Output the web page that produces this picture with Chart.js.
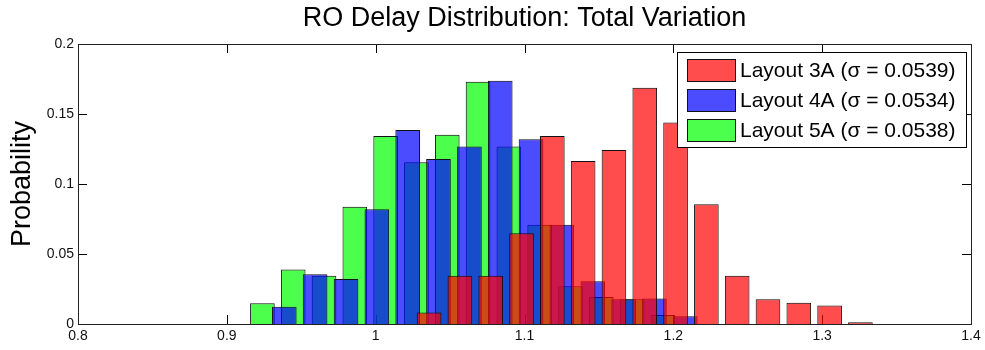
<!DOCTYPE html>
<html lang="en">
<head>
    <meta charset="UTF-8">
    <title>RO Delay Distribution: Total Variation</title>
    <script src="https://cdn.jsdelivr.net/npm/chart.js"></script>
    <style>
        html, body { margin: 0; padding: 0; background: #fff; }
        #wrap { width: 985px; height: 350px; }
    </style>
</head>
<body>
    <div id="wrap"><canvas id="roChart"></canvas></div>

    <script>
        // histogram data (bin centres + probability per bin)
        const seriesNames = ['Layout 3A (σ = 0.0539)', 'Layout 4A (σ = 0.0534)', 'Layout 5A (σ = 0.0538)'];

        const centers3A = [1.0359, 1.0566, 1.0773, 1.0980, 1.1187, 1.1394, 1.1601, 1.1808, 1.2015, 1.2222, 1.2429, 1.2636, 1.2843, 1.3050, 1.3257];
        const prob3A    = [0.0083, 0.0345, 0.0345, 0.0648, 0.1343, 0.1164, 0.1243, 0.1688, 0.1440, 0.0855, 0.0345, 0.0176, 0.0152, 0.0133, 0.0012];

        const centers4A = [0.9386, 0.9593, 0.9801, 1.0008, 1.0215, 1.0422, 1.0630, 1.0837, 1.1044, 1.1251, 1.1459, 1.1666, 1.1873, 1.2080];
        const prob4A    = [0.0124, 0.0355, 0.0321, 0.0819, 0.1386, 0.1179, 0.1267, 0.1738, 0.1319, 0.0709, 0.0305, 0.0176, 0.0183, 0.0055];

        const centers5A = [0.9239, 0.9446, 0.9653, 0.9860, 1.0067, 1.0274, 1.0481, 1.0688, 1.0895, 1.1102, 1.1309, 1.1516, 1.1723, 1.1930];
        const prob5A    = [0.0148, 0.0390, 0.0345, 0.0838, 0.1343, 0.1155, 0.1352, 0.1731, 0.1267, 0.0709, 0.0270, 0.0193, 0.0176, 0.0064];

        const xTicks = [0.8, 0.9, 1, 1.1, 1.2, 1.3, 1.4];
        const xTickLabels = ['0.8', '0.9', '1', '1.1', '1.2', '1.3', '1.4'];
        const yTicks = [0, 0.05, 0.1, 0.15, 0.2];
        const yTickLabels = ['0', '0.05', '0.1', '0.15', '0.2'];

        const FONT = "'Liberation Sans', Arial, Helvetica, sans-serif";
        Chart.defaults.font.family = FONT;
        Chart.defaults.color = '#000';

        function points(xs, ys) {
            return xs.map((x, i) => ({ x: x, y: ys[i] }));
        }

        // matlab style box with inward ticks
        const frameTicks = {
            id: 'frameTicks',
            beforeDatasetsDraw(chart) {
                const { ctx, chartArea: a, scales } = chart;
                const len = 9;
                ctx.save();
                ctx.strokeStyle = '#000';
                ctx.lineWidth = 1;
                ctx.beginPath();
                xTicks.forEach(v => {
                    const px = Math.round(scales.x.getPixelForValue(v)) + 0.5;
                    ctx.moveTo(px, a.bottom); ctx.lineTo(px, a.bottom - len);
                    ctx.moveTo(px, a.top); ctx.lineTo(px, a.top + len);
                });
                yTicks.forEach(v => {
                    const py = Math.round(scales.y.getPixelForValue(v)) + 0.5;
                    ctx.moveTo(a.left, py); ctx.lineTo(a.left + len, py);
                    ctx.moveTo(a.right, py); ctx.lineTo(a.right - len, py);
                });
                ctx.stroke();
                ctx.restore();
            },
            afterDatasetsDraw(chart) {
                const { ctx, chartArea: a } = chart;
                ctx.save();
                ctx.strokeStyle = '#222';
                ctx.lineWidth = 1;
                ctx.strokeRect(Math.round(a.left) + 0.5, Math.round(a.top) + 0.5,
                    Math.round(a.right - a.left), Math.round(a.bottom - a.top));
                ctx.restore();
            }
        };

        // legend box inside the top right corner of the plot
        const boxLegend = {
            id: 'boxLegend',
            afterDraw(chart) {
                const { ctx, chartArea: a } = chart;
                const items = chart.data.datasets;
                ctx.save();
                ctx.font = '21px ' + FONT;
                const textW = Math.max(...items.map(d => ctx.measureText(d.label).width));
                const swW = 48, swH = 22, rowH = 30;
                const w = Math.round(10 + swW + 5 + textW + 10);
                const h = 95;
                const x0 = Math.round(a.right - 5 - w);
                const y0 = Math.round(a.top + 8);
                ctx.fillStyle = '#fff';
                ctx.fillRect(x0, y0, w, h);
                ctx.strokeStyle = '#000';
                ctx.lineWidth = 1;
                ctx.strokeRect(x0 + 0.5, y0 + 0.5, w, h);
                items.forEach((d, i) => {
                    const sy = y0 + 7 + i * rowH;
                    ctx.fillStyle = d.backgroundColor;
                    ctx.fillRect(x0 + 10, sy, swW, swH);
                    ctx.strokeStyle = '#111';
                    ctx.strokeRect(x0 + 10.5, sy + 0.5, swW, swH);
                    ctx.fillStyle = '#000';
                    ctx.textBaseline = 'middle';
                    ctx.textAlign = 'left';
                    ctx.fillText(d.label, x0 + 10 + swW + 5, sy + swH / 2 + 1);
                });
                ctx.restore();
            }
        };

        const hiddenX = {
            type: 'linear', display: false, min: 0.8, max: 1.4,
            offset: false, grid: { offset: false }
        };

        const ctx = document.getElementById('roChart').getContext('2d');
        const chart = new Chart(ctx, {
            type: 'bar',
            data: {
                datasets: [{
                    label: seriesNames[0],
                    data: points(centers3A, prob3A),
                    xAxisID: 'x',
                    backgroundColor: 'rgba(255, 0, 0, 0.7)'
                }, {
                    label: seriesNames[1],
                    data: points(centers4A, prob4A),
                    xAxisID: 'x2',
                    backgroundColor: 'rgba(0, 0, 255, 0.7)'
                }, {
                    label: seriesNames[2],
                    data: points(centers5A, prob5A),
                    xAxisID: 'x3',
                    backgroundColor: 'rgba(0, 255, 0, 0.7)'
                }]
            },
            options: {
                responsive: true,
                maintainAspectRatio: false,
                animation: false,
                datasets: {
                    bar: {
                        grouped: false,
                        barPercentage: 0.8,
                        categoryPercentage: 1.0,
                        borderColor: '#111',
                        borderWidth: 1
                    }
                },
                layout: { padding: { top: 0, right: 14, bottom: 0, left: 0 } },
                scales: {
                    x: {
                        type: 'linear',
                        min: 0.8,
                        max: 1.4,
                        offset: false,
                        grid: { display: false, drawTicks: false, offset: false },
                        border: { display: false },
                        afterBuildTicks: s => { s.ticks = xTicks.map(v => ({ value: v })); },
                        afterFit: s => { s.height = 26; },
                        ticks: {
                            font: { size: 14 }, color: '#111', padding: 4, maxRotation: 0,
                            callback: (v, i) => xTickLabels[i]
                        }
                    },
                    x2: hiddenX,
                    x3: Object.assign({}, hiddenX),
                    y: {
                        min: 0,
                        max: 0.2,
                        grid: { display: false, drawTicks: false },
                        border: { display: false },
                        afterBuildTicks: s => { s.ticks = yTicks.map(v => ({ value: v })); },
                        afterFit: s => { s.width = 78; },
                        ticks: {
                            font: { size: 14 }, color: '#111', padding: 4,
                            callback: (v, i) => yTickLabels[i]
                        },
                        title: {
                            display: true,
                            text: 'Probability',
                            font: { size: 27 },
                            color: '#000',
                            padding: { top: 6, bottom: 0 }
                        }
                    }
                },
                plugins: {
                    legend: { display: false },
                    tooltip: { enabled: false },
                    title: {
                        display: true,
                        text: 'RO Delay Distribution: Total Variation',
                        fullSize: false,
                        color: '#000',
                        font: { size: 27, weight: 'normal' },
                        padding: { top: 2, bottom: 9.6 }
                    }
                }
            },
            plugins: [frameTicks, boxLegend]
        });
    </script>
</body>
</html>
